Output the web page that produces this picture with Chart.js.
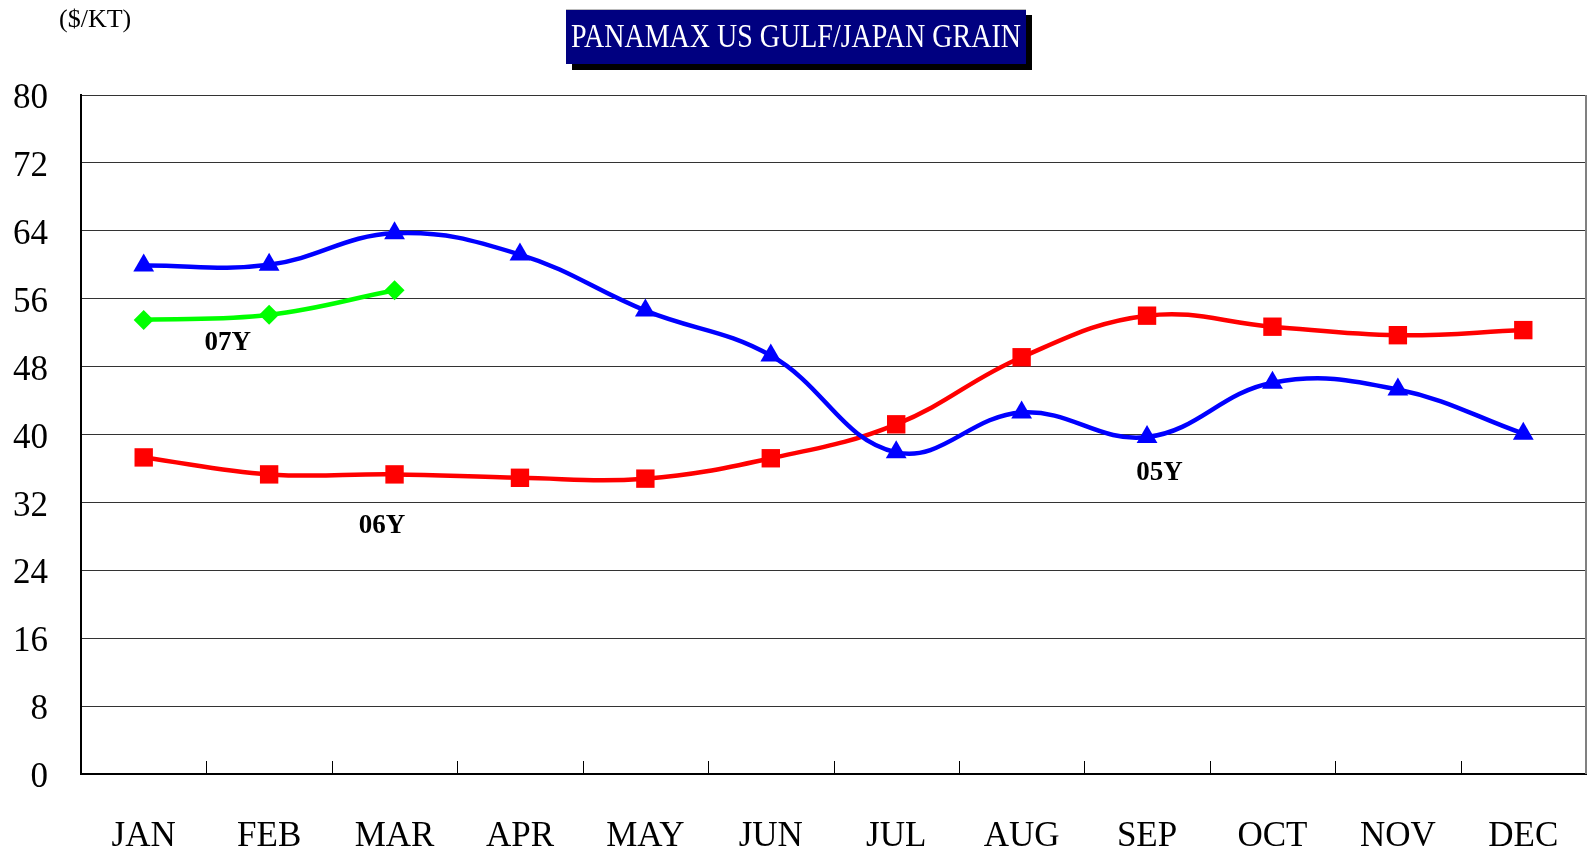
<!DOCTYPE html>
<html>
<head>
<meta charset="utf-8">
<script src="https://cdn.jsdelivr.net/npm/chart.js@4/dist/chart.umd.min.js"></script>
<style>
  body { margin: 0; background: #fff; overflow: hidden; }
  #wrap { position: relative; width: 1589px; height: 854px; }
  #chart { display: block; }
  #unit { position: absolute; left: 59px; top: 4px; font: 26px "Liberation Serif", serif; color: #000; }
  #title {
    position: absolute; left: 566px; top: 9px; width: 460px; height: 54px;
    background: #000080; box-shadow: 6px 6px 0 #000; border-top: 1px solid #bbb;
    color: #fff; font: 28px "Liberation Serif", serif; text-align: center; line-height: 52px;
  }
  #title span { display: inline-block; transform: scaleY(1.2); }
</style>
</head>
<body>
<div id="wrap">
  <canvas id="chart" width="1589" height="854"></canvas>
  <div id="unit">($/KT)</div>
  <div id="title"><span>PANAMAX US GULF/JAPAN GRAIN</span></div>
</div>
<script>
// data
var months = ['JAN', 'FEB', 'MAR', 'APR', 'MAY', 'JUN', 'JUL', 'AUG', 'SEP', 'OCT', 'NOV', 'DEC'];
var y05 = [59.9, 60.0, 63.7, 61.2, 54.6, 49.3, 37.9, 42.6, 39.7, 46.1, 45.3, 40.1];
var y06 = [37.3, 35.3, 35.3, 34.9, 34.8, 37.2, 41.2, 49.1, 54.0, 52.7, 51.7, 52.3];
var y07 = [53.5, 54.1, 57.0];
var yTicks = [0, 8, 16, 24, 32, 40, 48, 56, 64, 72, 80];
// series name labels: [text, month index, value]
var seriesLabels = [['07Y', 0.67, 50.8], ['06Y', 1.9, 29.2], ['05Y', 8.1, 35.5]];

var extras = {
    id: 'extras',
    afterDatasetsDraw: function (chart) {
        var ctx = chart.ctx, x = chart.scales.x, y = chart.scales.y, area = chart.chartArea;
        ctx.save();
        // inward tick marks between months
        ctx.strokeStyle = '#000';
        ctx.lineWidth = 1;
        for (var i = 1; i < months.length; i++) {
            var px = Math.round(x.getPixelForValue(i - 0.5)) + 0.5;
            ctx.beginPath();
            ctx.moveTo(px, area.bottom);
            ctx.lineTo(px, area.bottom - 13);
            ctx.stroke();
        }
        // right border
        ctx.strokeStyle = '#808080';
        ctx.lineWidth = 2;
        ctx.beginPath();
        ctx.moveTo(area.right, area.top);
        ctx.lineTo(area.right, area.bottom);
        ctx.stroke();
        // series labels
        ctx.fillStyle = '#000';
        ctx.font = 'bold 27px "Liberation Serif", serif';
        ctx.textAlign = 'center';
        ctx.textBaseline = 'middle';
        seriesLabels.forEach(function (l) {
            ctx.fillText(l[0], x.getPixelForValue(l[1]), y.getPixelForValue(l[2]));
        });
        ctx.restore();
    }
};

var ctx = document.getElementById('chart').getContext('2d');
var chart = new Chart(ctx, {
    type: 'line',
    data: {
        labels: months,
        datasets: [{
            label: '05Y',
            data: y05,
            borderColor: '#0000ff',
            backgroundColor: '#0000ff',
            borderWidth: 4.5,
            pointStyle: 'triangle',
            pointRadius: 12,
            pointBorderWidth: 0,
            tension: 0.4
        }, {
            label: '06Y',
            data: y06,
            borderColor: '#ff0000',
            backgroundColor: '#ff0000',
            borderWidth: 4.5,
            pointStyle: 'rect',
            pointRadius: 13,
            pointBorderWidth: 0,
            tension: 0.4
        }, {
            label: '07Y',
            data: y07,
            borderColor: '#00ff00',
            backgroundColor: '#00ff00',
            borderWidth: 4.5,
            pointStyle: 'rectRot',
            pointRadius: 10,
            pointBorderWidth: 0,
            tension: 0.4
        }]
    },
    options: {
        responsive: false,
        animation: false,
        layout: { autoPadding: false, padding: { top: 95, right: 3, bottom: 0, left: 0 } },
        plugins: { legend: { display: false }, tooltip: { enabled: false } },
        scales: {
            x: {
                offset: true,
                grid: { display: false },
                border: { display: true, color: '#000', width: 2 },
                ticks: { color: '#000', padding: 34, font: { family: 'Liberation Serif', size: 35 } },
                afterFit: function (s) { s.height = 80; s.paddingLeft = 0; s.paddingRight = 0; }
            },
            y: {
                min: 0,
                max: 80,
                afterBuildTicks: function (s) { s.ticks = yTicks.map(function (v) { return { value: v }; }); },
                grid: { color: '#333', lineWidth: 1, drawTicks: false },
                border: { display: true, color: '#000', width: 2 },
                ticks: { color: '#000', padding: 33, labelOffset: 4, font: { family: 'Liberation Serif', size: 35 } },
                afterFit: function (s) { s.width = 81; s.paddingTop = 0; s.paddingBottom = 0; }
            }
        }
    },
    plugins: [extras]
});
</script>
</body>
</html>
